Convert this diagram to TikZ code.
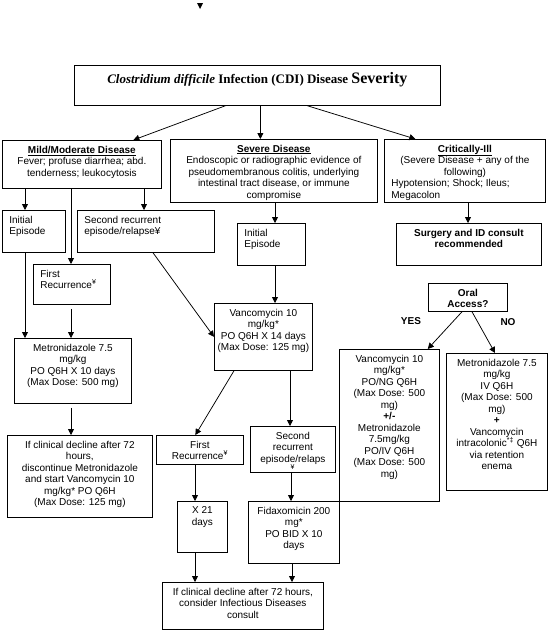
\documentclass[tikz,border=0pt]{standalone}
\usepackage{fontspec}
\setmainfont{Liberation Sans}
\newfontfamily\titlefont{Liberation Serif}
\usetikzlibrary{arrows.meta}

\tikzset{every picture/.style={line width=0.75pt}}
\tikzset{
  box/.style={draw, anchor=north west, inner sep=0pt, font=\fontsize{10}{11.5}\selectfont},
  arr/.style={-{Triangle[length=6pt,width=6pt]}},
  lbl/.style={font=\fontsize{10}{11.5}\selectfont\bfseries}
}
% fixed size box, text from the top
\newcommand{\boxmid}[4][5.5]{\begin{minipage}[c][#3pt][t]{#2pt}\centering\vspace*{#1pt}#4\end{minipage}}
\newcommand{\boxleft}[4][5.5]{\begin{minipage}[c][#3pt][t]{#2pt}\raggedright\leftskip=7pt\vspace*{#1pt}#4\end{minipage}}

\begin{document}
\begin{tikzpicture}[x=1pt,y=1pt,yscale=-1,xscale=1]
\useasboundingbox (0,0) rectangle (549,632);

%Shape: Triangle
\fill (197,3) -- (203,3) -- (200,9) -- cycle ;

%Shape: Rectangle [title]
\node[box] (title) at (74,65) {\boxmid[7]{366}{40}{\titlefont\fontsize{13}{15}\selectfont\bfseries\itshape Clostridium difficile\upshape\ Infection (CDI) Disease {\fontsize{16}{18}\selectfont Severity}}};

%Shape: Rectangle [severity]
\node[box] (mild) at (2,140) {\boxmid{159}{48}{\underline{\textbf{Mild/Moderate Disease}}\\Fever; profuse diarrhea; abd.\\tenderness; leukocytosis}};
\node[box] (severe) at (170,139) {\boxmid{207}{63}{\underline{\textbf{Severe Disease}}\\Endoscopic or radiographic evidence of\\pseudomembranous colitis, underlying\\intestinal tract disease, or immune\\compromise}};
\node[box] (crit) at (384,139) {\boxmid{161}{63}{\underline{\textbf{Critically-Ill}}\\(Severe Disease + any of the\\following)\par
  {\leftskip=7pt\rightskip=0pt plus 1fil Hypotension; Shock; Ileus;\\Megacolon\par}}};

%Shape: Rectangle [mild branch]
\node[box] (initA) at (2,210) {\boxleft{63}{42}{Initial\\Episode}};
\node[box] (second) at (77,210) {\boxleft{137}{42}{Second recurrent\\episode/relapse¥}};
\node[box] (firstA) at (33,264) {\boxleft{77}{40}{First\\Recurrence\textsuperscript{¥}}};
\node[box] (metroA) at (14,338) {\boxmid{117}{65}{Metronidazole 7.5\\mg/kg\\PO Q6H X 10 days\\(Max Dose: 500 mg)}};
\node[box] (clinA) at (7,435) {\boxmid{145}{82}{If clinical decline after 72\\hours,\\discontinue Metronidazole\\and start Vancomycin 10\\mg/kg* PO Q6H\\(Max Dose: 125 mg)}};

%Shape: Rectangle [severe branch]
\node[box] (initB) at (237,223) {\boxleft{68}{42}{Initial\\Episode}};
\node[box] (vancoA) at (214,303) {\boxmid{98}{67}{Vancomycin 10\\mg/kg*\\PO Q6H X 14 days\\(Max Dose: 125 mg)}};
\node[box] (firstB) at (156,435) {\boxmid{87}{29}{First\\Recurrence\textsuperscript{¥}}};
\node[box] (secondB) at (250,426) {\boxmid{85}{46}{Second\\recurrent\\episode/relaps\\\textsuperscript{¥}}};
\node[box] (x21) at (177,501) {\boxmid{50}{51}{X 21\\days}};
\node[box] (fidax) at (248,501) {\boxmid{91}{62}{Fidaxomicin 200\\mg*\\PO BID X 10\\days}};
\node[box] (final) at (162,582) {\boxmid{161}{47}{If clinical decline after 72 hours,\\consider Infectious Diseases\\consult}};

%Shape: Rectangle [critical branch]
\node[box] (surgery) at (396,223) {\boxmid{145}{42}{\bfseries Surgery and ID consult\\recommended}};
\node[box] (oral) at (428,283) {\boxmid{79}{28}{\bfseries Oral\\Access?}};
\node[box] (vancoB) at (339,349) {\boxmid{100}{152}{Vancomycin 10\\mg/kg*\\PO/NG Q6H\\(Max Dose: 500\\mg)\\\textbf{+/-}\\Metronidazole\\7.5mg/kg\\PO/IV Q6H\\(Max Dose: 500\\mg)}};
\node[box] (metroB) at (446,353) {\boxmid{101}{137}{Metronidazole 7.5\\mg/kg\\IV Q6H\\(Max Dose: 500\\mg)\\\textbf{+}\\Vancomycin\\intracolonic\textsuperscript{*‡} Q6H\\via retention\\enema}};

% Text Node
\node[lbl] (yes) at (411,321) {YES};
% Text Node
\node[lbl] (no) at (508,322) {NO};

% Connectors
\draw[arr] ([xshift=-32pt]title.south) -- ([xshift=51.5pt]mild.north);
\draw[arr] ([xshift=3pt]title.south) -- ([xshift=3pt]title.south |- severe.north);
\draw[arr] ([xshift=50pt]title.south) -- ([xshift=-49.5pt]crit.north);

\draw[arr] ([xshift=23pt]initA.north west |- mild.south) -- ([xshift=23pt]initA.north west);
\draw[arr] ([xshift=38pt]firstA.north west |- mild.south) -- ([xshift=38pt]firstA.north west);
\draw[arr] ([xshift=67pt]second.north west |- mild.south) -- ([xshift=67pt]second.north west);
\draw[arr] ([xshift=23pt]initA.south west) -- ([xshift=23pt]initA.south west |- metroA.north);
\draw[arr, shorten <=4pt] ([xshift=38pt]firstA.south west) -- ([xshift=38pt]firstA.south west |- metroA.north);
\draw[arr, shorten <=4pt] ([xshift=57pt]metroA.south west) -- ([xshift=57pt]metroA.south west |- clinA.north);
\draw[arr] ([xshift=76pt]second.south west) -- (vancoA.west);

\draw[arr] ([xshift=38pt]initB.north west |- severe.south) -- ([xshift=38pt]initB.north west);
\draw[arr] ([xshift=38pt]initB.south west) -- ([xshift=38pt]initB.south west |- vancoA.north);
\draw[arr] ([xshift=20pt]vancoA.south west) -- ([xshift=-4.5pt]firstB.north);
\draw[arr] ([xshift=76pt]vancoA.south west) -- ([xshift=76pt]vancoA.south west |- secondB.north);
\draw[arr] ([xshift=39pt]firstB.south west) -- ([xshift=39pt]firstB.south west |- x21.north);
\draw[arr] ([xshift=41pt]secondB.south west) -- ([xshift=41pt]secondB.south west |- fidax.north);
\draw[arr] ([xshift=18pt]x21.south west) -- ([xshift=18pt]x21.south west |- final.north);
\draw[arr] ([xshift=44pt]fidax.south west) -- ([xshift=44pt]fidax.south west |- final.north);

\draw[arr] ([xshift=72pt]surgery.north west |- crit.south) -- ([xshift=72pt]surgery.north west);
\draw[arr] ([xshift=34pt]oral.south west) -- ([xshift=-12pt]vancoB.north east);
\draw[arr] ([xshift=44pt]oral.south west) -- ([xshift=49pt]metroB.north west);

\end{tikzpicture}
\end{document}
